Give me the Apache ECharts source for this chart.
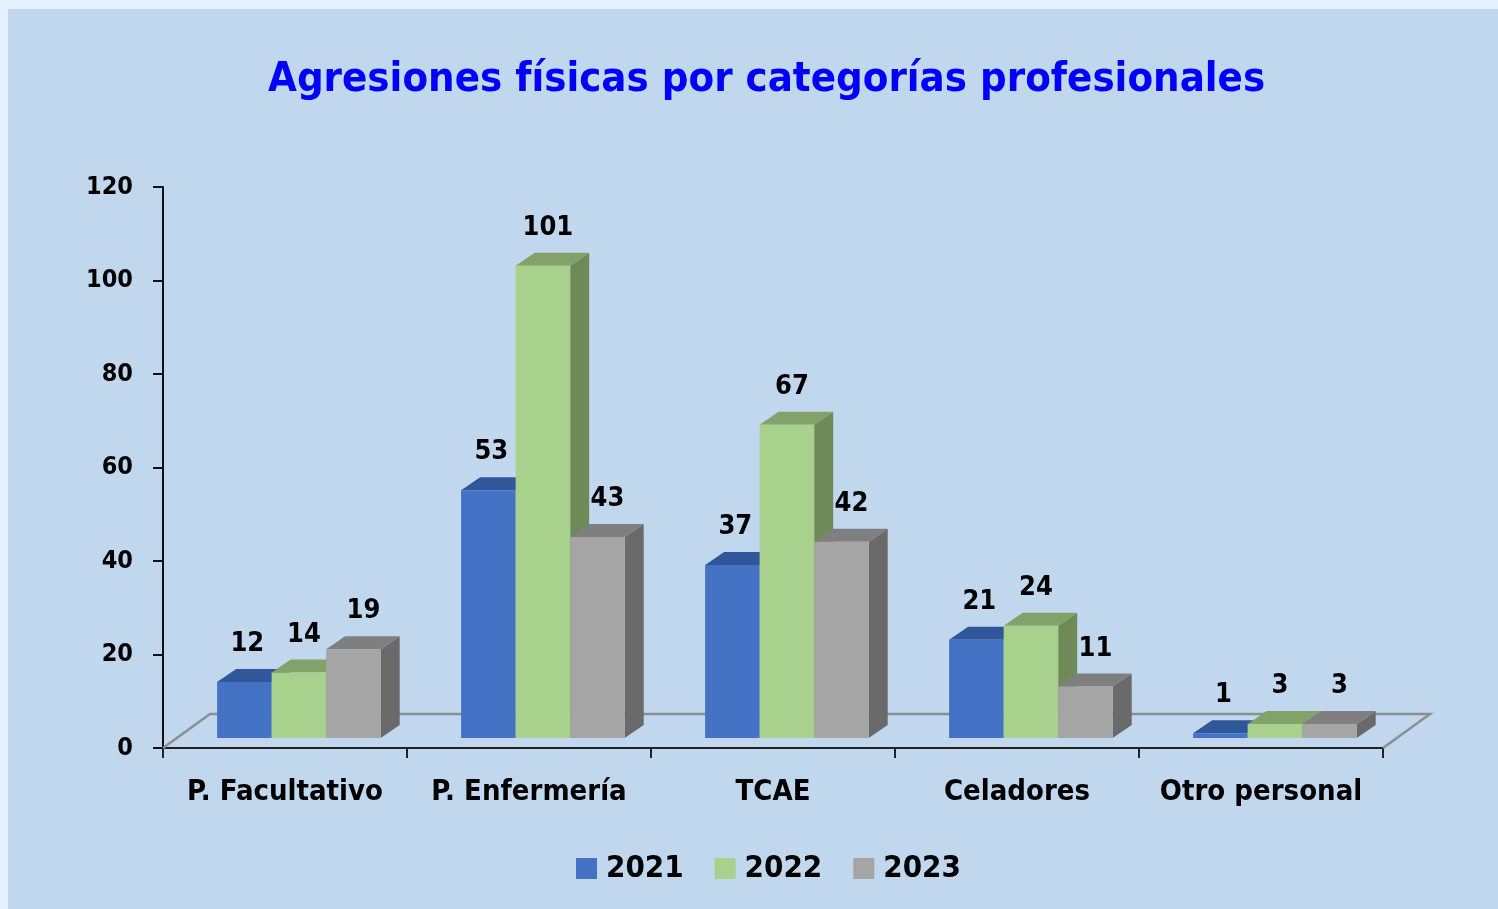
<!DOCTYPE html>
<html>
<head>
<meta charset="utf-8">
<title>Agresiones físicas por categorías profesionales</title>
<script src="https://cdn.jsdelivr.net/npm/echarts@6/dist/echarts.min.js"></script>
<style>
  html, body { margin: 0; padding: 0; width: 1498px; height: 909px; overflow: hidden; background: #e4f0fb; }
  #panel { position: absolute; left: 8px; top: 9px; right: 0; bottom: 0; background: #c0d7ee; }
  #chart { position: absolute; left: 0; top: 0; width: 1498px; height: 909px; }
</style>
</head>
<body>
<div id="panel"></div>
<div id="chart"></div>
<script>
// datos
const categorias = ['P. Facultativo', 'P. Enfermería', 'TCAE', 'Celadores', 'Otro personal']
const anios = ['2021', '2022', '2023']
const valores2021 = [12, 53, 37, 21, 1]
const valores2022 = [14, 101, 67, 24, 3]
const valores2023 = [19, 43, 42, 11, 3]
const ticksY = [0, 20, 40, 60, 80, 100, 120]

// colores: frente, tapa, lateral
const colores = [
  { front: '#4472c4', top: '#30579a', side: '#2f528f' },
  { front: '#a9d18e', top: '#83a269', side: '#6d8a57' },
  { front: '#a5a5a5', top: '#7f7f7f', side: '#6a6a6a' }
]
const labelDx = [3, 5, 10]
const FONT = '"DejaVu Sans Condensed", "DejaVu Sans", sans-serif'

const chart = echarts.init(document.getElementById('chart'))

// barra con efecto 3D
function makeBarRender(idx) {
  return function (params, api) {
    const cat = api.value(0)
    const val = api.value(1)
    const base = api.coord([cat, 0])
    const bandW = api.size([1, 0])[0]
    const bw = bandW * 0.2235
    const shiftX = bandW * 0.057
    const dx = 19, dy = 13
    const x0 = base[0] - 1.5 * bw + idx * bw + shiftX
    const yb = base[1] - 10
    const top = api.coord([cat, val])[1] - 10
    const c = colores[idx]
    return {
      type: 'group',
      children: [
        {
          type: 'polygon',
          shape: { points: [[x0 + bw, top], [x0 + bw + dx, top - dy], [x0 + bw + dx, yb - dy], [x0 + bw, yb]] },
          style: { fill: c.side }
        },
        {
          type: 'polygon',
          shape: { points: [[x0, top], [x0 + dx, top - dy], [x0 + bw + dx, top - dy], [x0 + bw, top]] },
          style: { fill: c.top }
        },
        {
          type: 'rect',
          shape: { x: x0, y: top, width: bw, height: yb - top },
          style: { fill: c.front }
        },
        {
          type: 'text',
          x: x0 + bw / 2 + labelDx[idx],
          y: top - 38,
          style: {
            text: String(val),
            fill: '#000',
            font: 'bold 27px ' + FONT,
            align: 'center',
            verticalAlign: 'middle'
          }
        }
      ]
    }
  }
}

// suelo (plano de fondo)
function floorRender(params, api) {
  const cs = params.coordSys
  const left = cs.x, right = cs.x + cs.width, bottom = cs.y + cs.height
  const dx = 47, dy = 34
  return {
    type: 'polyline',
    shape: { points: [[left, bottom], [left + dx, bottom - dy], [right + dx, bottom - dy], [right, bottom]] },
    style: { stroke: '#8e8e8e', lineWidth: 2.5, fill: null }
  }
}

const seriesData = [valores2021, valores2022, valores2023]

chart.setOption({
  animation: false,
  backgroundColor: 'transparent',
  title: {
    text: 'Agresiones físicas por categorías profesionales',
    left: 263,
    top: 54,
    textStyle: { color: '#0000ff', fontSize: 41.5, fontWeight: 'bold', fontFamily: FONT }
  },
  legend: {
    bottom: 20,
    left: 571,
    itemWidth: 21,
    itemHeight: 21,
    itemGap: 31,
    icon: 'rect',
    textStyle: { color: '#000', fontSize: 31, fontWeight: 'bold', fontFamily: FONT, padding: [0, 0, 0, 4] },
    data: anios.map((a, i) => ({ name: a, itemStyle: { color: colores[i].front } }))
  },
  grid: { left: 163, right: 115, top: 187, bottom: 161 },
  xAxis: {
    type: 'category',
    data: categorias,
    axisLine: { lineStyle: { color: '#222', width: 2 } },
    axisTick: { show: true, interval: 0, length: 10, lineStyle: { color: '#222', width: 2 } },
    axisLabel: { interval: 0, color: '#000', fontSize: 29, fontWeight: 'bold', fontFamily: FONT, margin: 30 },
    splitLine: { show: false }
  },
  yAxis: {
    type: 'value',
    min: ticksY[0],
    max: ticksY[ticksY.length - 1],
    interval: 20,
    axisLine: { show: true, lineStyle: { color: '#111', width: 2 } },
    axisTick: { show: true, length: 10, lineStyle: { color: '#111', width: 2 } },
    axisLabel: { color: '#000', fontSize: 25, fontWeight: 'bold', fontFamily: FONT, margin: 30 },
    splitLine: { show: false }
  },
  series: [
    {
      type: 'custom',
      name: 'suelo',
      renderItem: floorRender,
      data: [[0, 0]],
      silent: true,
      z: 1
    }
  ].concat(anios.map((a, i) => ({
    type: 'custom',
    name: a,
    renderItem: makeBarRender(i),
    itemStyle: { color: colores[i].front },
    encode: { x: 0, y: 1 },
    data: seriesData[i].map((v, k) => [k, v]),
    z: 2 + i
  })))
})
</script>
</body>
</html>
